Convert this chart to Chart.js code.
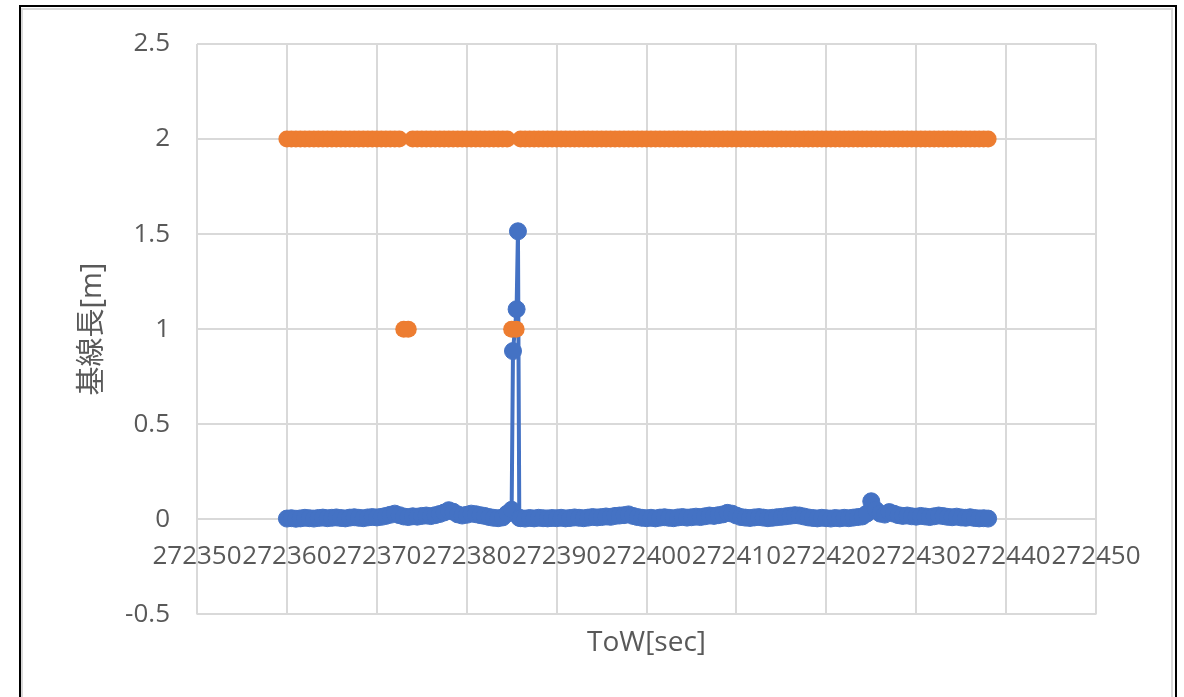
<!DOCTYPE html>
<html>
<head>
<meta charset="utf-8">
<script src="https://cdn.jsdelivr.net/npm/chart.js@4/dist/chart.umd.min.js"></script>
<style>
  html, body { margin:0; padding:0; background:#fff; width:1184px; height:697px; overflow:hidden; }
  #frameOuter { position:absolute; left:19px; top:5px; width:1158px; height:800px; border:2px solid #000; box-sizing:border-box; }
  #frameInner { position:absolute; left:21px; top:8px; width:1152px; height:800px; border:2px solid #d9d9d9; box-sizing:border-box; }
  #c { position:absolute; left:0; top:0; z-index:2; }
</style>
</head>
<body>
<div id="frameOuter"></div>
<div id="frameInner"></div>
<canvas id="c" width="1184" height="697"></canvas>
<script>
// ---- data ----
const xTicksMin = 272350;
const xTicksMax = 272450;
const xTickStep = 10;
const yTicksMin = -0.5;
const yTicksMax = 2.5;
const yTickStep = 0.5;

const xTitle = 'ToW[sec]';
const yTitle = '基線長[m]';

// series 1 (blue): baseline length with line
const blueTow = [
  272360,272360.5,272361,272361.5,272362,272362.5,272363,272363.5,272364,272364.5,
  272365,272365.5,272366,272366.5,272367,272367.5,272368,272368.5,272369,272369.5,
  272370,272370.5,272371,272371.5,272372,272372.5,272373,272373.5,272374,272374.5,
  272375,272375.5,272376,272376.5,272377,272377.5,272378,272378.5,272379,272379.5,
  272380,272380.5,272381,272381.5,272382,272382.5,272383,272383.5,272384,272384.5,
  272385,272385.15,272385.55,272385.7,272385.85,
  272386,272386.5,272387,272387.5,272388,272388.5,272389,272389.5,
  272390,272390.5,272391,272391.5,272392,272392.5,272393,272393.5,272394,272394.5,
  272395,272395.5,272396,272396.5,272397,272397.5,272398,272398.5,272399,272399.5,
  272400,272400.5,272401,272401.5,272402,272402.5,272403,272403.5,272404,272404.5,
  272405,272405.5,272406,272406.5,272407,272407.5,272408,272408.5,272409,272409.5,
  272410,272410.5,272411,272411.5,272412,272412.5,272413,272413.5,272414,272414.5,
  272415,272415.5,272416,272416.5,272417,272417.5,272418,272418.5,272419,272419.5,
  272420,272420.5,272421,272421.5,272422,272422.5,272423,272423.5,272424,272424.5,
  272425,272425.5,272426,272426.5,272427,272427.5,272428,272428.5,272429,272429.5,
  272430,272430.5,272431,272431.5,272432,272432.5,272433,272433.5,272434,272434.5,
  272435,272435.5,272436,272436.5,272437,272437.5,272438
];
const blueLen = [
  0.004,0.006,0.003,0.005,0.008,0.006,0.004,0.007,0.009,0.006,
  0.008,0.010,0.007,0.005,0.009,0.011,0.008,0.006,0.010,0.012,
  0.010,0.013,0.018,0.024,0.030,0.022,0.015,0.012,0.016,0.014,
  0.018,0.020,0.017,0.022,0.028,0.036,0.048,0.040,0.026,0.020,
  0.024,0.030,0.027,0.022,0.018,0.012,0.008,0.006,0.010,0.030,
  0.050,0.885,1.105,1.515,0.008,
  0.006,0.004,0.007,0.005,0.008,0.006,0.005,0.007,
  0.006,0.008,0.005,0.007,0.010,0.008,0.006,0.009,0.012,0.010,
  0.012,0.015,0.013,0.018,0.020,0.022,0.026,0.018,0.012,0.008,
  0.006,0.008,0.005,0.009,0.011,0.008,0.006,0.010,0.012,0.009,
  0.011,0.014,0.012,0.016,0.020,0.018,0.022,0.026,0.034,0.030,
  0.020,0.012,0.009,0.007,0.010,0.012,0.009,0.006,0.008,0.011,
  0.013,0.016,0.019,0.022,0.020,0.015,0.010,0.007,0.005,0.008,
  0.006,0.004,0.007,0.005,0.008,0.006,0.009,0.012,0.015,0.030,
  0.095,0.050,0.030,0.025,0.038,0.030,0.022,0.018,0.020,0.016,
  0.014,0.018,0.015,0.012,0.016,0.020,0.017,0.013,0.011,0.014,
  0.010,0.008,0.011,0.007,0.005,0.006,0.004
];

// series 2 (orange): markers only
const orangeTow = [
  272360,272360.5,272361,272361.5,272362,272362.5,272363,272363.5,272364,272364.5,
  272365,272365.5,272366,272366.5,272367,272367.5,272368,272368.5,272369,272369.5,
  272370,272370.5,272371,272371.5,272372,272372.5,272373,272373.5,272374,272374.5,
  272375,272375.5,272376,272376.5,272377,272377.5,272378,272378.5,272379,272379.5,
  272380,272380.5,272381,272381.5,272382,272382.5,272383,272383.5,272384,272384.5,
  272385,272385.5,272386,272386.5,272387,272387.5,272388,272388.5,272389,272389.5,
  272390,272390.5,272391,272391.5,272392,272392.5,272393,272393.5,272394,272394.5,
  272395,272395.5,272396,272396.5,272397,272397.5,272398,272398.5,272399,272399.5,
  272400,272400.5,272401,272401.5,272402,272402.5,272403,272403.5,272404,272404.5,
  272405,272405.5,272406,272406.5,272407,272407.5,272408,272408.5,272409,272409.5,
  272410,272410.5,272411,272411.5,272412,272412.5,272413,272413.5,272414,272414.5,
  272415,272415.5,272416,272416.5,272417,272417.5,272418,272418.5,272419,272419.5,
  272420,272420.5,272421,272421.5,272422,272422.5,272423,272423.5,272424,272424.5,
  272425,272425.5,272426,272426.5,272427,272427.5,272428,272428.5,272429,272429.5,
  272430,272430.5,272431,272431.5,272432,272432.5,272433,272433.5,272434,272434.5,
  272435,272435.5,272436,272436.5,272437,272437.5,272438
];
const orangeVal = [
  2,2,2,2,2,2,2,2,2,2,
  2,2,2,2,2,2,2,2,2,2,
  2,2,2,2,2,2,1,1,2,2,
  2,2,2,2,2,2,2,2,2,2,
  2,2,2,2,2,2,2,2,2,2,
  1,1,2,2,2,2,2,2,2,2,
  2,2,2,2,2,2,2,2,2,2,
  2,2,2,2,2,2,2,2,2,2,
  2,2,2,2,2,2,2,2,2,2,
  2,2,2,2,2,2,2,2,2,2,
  2,2,2,2,2,2,2,2,2,2,
  2,2,2,2,2,2,2,2,2,2,
  2,2,2,2,2,2,2,2,2,2,
  2,2,2,2,2,2,2,2,2,2,
  2,2,2,2,2,2,2,2,2,2,
  2,2,2,2,2,2,2
];

// ---- chart ----
const FONT = "'Open Sans', 'Noto Sans CJK JP', sans-serif";
const TXT = '#595959';
const GRID = '#d9d9d9';

const blueData = blueTow.map((t, i) => ({ x: t, y: blueLen[i] }));
const orangeData = orangeTow.map((t, i) => ({ x: t, y: orangeVal[i] }));

new Chart(document.getElementById('c').getContext('2d'), {
  type: 'scatter',
  data: {
    datasets: [
      {
        label: 'series2',
        data: orangeData,
        showLine: false,
        backgroundColor: '#ED7D31',
        borderColor: '#ED7D31',
        pointRadius: 8.5,
        pointBorderWidth: 0,
        order: 1
      },
      {
        label: 'series1',
        data: blueData,
        showLine: true,
        borderColor: '#4472C4',
        backgroundColor: '#4472C4',
        borderWidth: 4,
        pointRadius: 8.5,
        pointBorderWidth: 1,
        pointBorderColor: '#4472C4',
        order: 2
      }
    ]
  },
  options: {
    responsive: false,
    animation: false,
    events: [],
    layout: { padding: { left: 71, top: 44, right: 88, bottom: 37 } },
    plugins: {
      legend: { display: false },
      tooltip: { enabled: false }
    },
    scales: {
      x: {
        type: 'linear',
        min: xTicksMin,
        max: xTicksMax,
        position: { y: 0 },
        border: { display: false },
        grid: { color: GRID, lineWidth: 2, drawTicks: false },
        ticks: {
          stepSize: xTickStep,
          autoSkip: false,
          maxRotation: 0,
          minRotation: 0,
          padding: 22,
          color: TXT,
          font: { family: FONT, size: 26 },
          callback: v => String(v)
        }
      },
      xTitleAxis: {
        type: 'linear',
        axis: 'x',
        position: 'bottom',
        min: xTicksMin,
        max: xTicksMax,
        border: { display: false },
        grid: { display: false, drawTicks: false },
        ticks: { display: false },
        title: {
          display: true,
          text: xTitle,
          color: TXT,
          font: { family: FONT, size: 28 },
          padding: { top: 12, bottom: 0 }
        }
      },
      y: {
        type: 'linear',
        min: yTicksMin,
        max: yTicksMax,
        border: { display: false },
        grid: { color: GRID, lineWidth: 2, drawTicks: false },
        ticks: {
          stepSize: yTickStep,
          padding: 27,
          color: TXT,
          font: { family: FONT, size: 26 },
          callback: v => String(v)
        },
        title: {
          display: true,
          text: yTitle,
          color: TXT,
          font: { family: FONT, size: 29 },
          padding: { top: 4, bottom: 4 }
        },
        afterFit: s => { s.width = 126; }
      }
    }
  }
});
</script>
</body>
</html>
